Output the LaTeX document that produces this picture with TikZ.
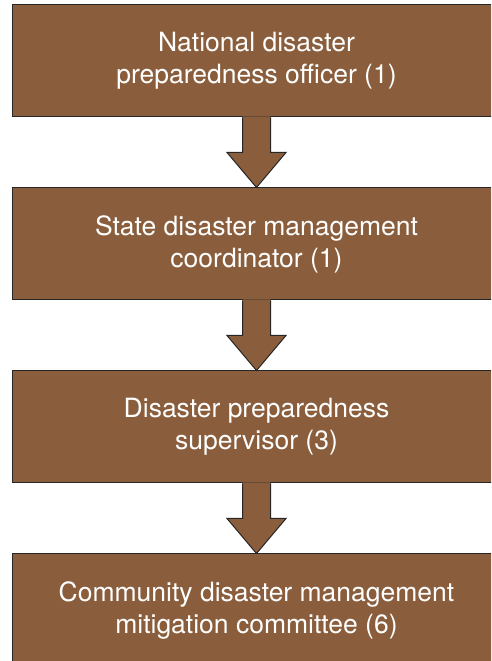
\documentclass[tikz,border=0pt]{standalone}
\usepackage{fontspec}
\setmainfont{TeX Gyre Heros}
\usetikzlibrary{positioning, calc}
\definecolor{boxbrown}{RGB}{138,94,60}
\definecolor{edgegray}{RGB}{38,38,38}
\tikzset{
  level/.style={draw=edgegray, line width=1pt, fill=boxbrown, text=white,
    minimum width=489pt, minimum height=112pt, inner sep=0pt, align=center,
    font=\fontsize{26.5}{32}\selectfont},
  blockarrow/.style={draw=edgegray, line width=1pt, line join=miter}
}

\begin{document}
\begin{tikzpicture}[x=1pt, y=1pt, node distance=70pt]
\useasboundingbox (0,0) rectangle (491,661);
\clip (0,0) rectangle (491,661);
% the four levels, top to bottom
\node[level] (national) at (256.5,600) {National disaster\\preparedness officer (1)};
\node[level, below=of national] (state) {State disaster management\\coordinator (1)};
\node[level, below=of state] (supervisor) {Disaster preparedness\\supervisor (3)};
\node[level, below=of supervisor] (community) {Community disaster management\\mitigation committee (6)};
% block arrows between the levels
\foreach \a/\b in {national/state, state/supervisor, supervisor/community} {
  \fill[boxbrown] ($(\a.south)+(-14,1)$) -- ($(\a.south)+(-14,-35)$) -- ($(\a.south)+(-29.5,-35)$)
    -- (\b.north) -- ($(\a.south)+(29.5,-35)$) -- ($(\a.south)+(14,-35)$) -- ($(\a.south)+(14,1)$) -- cycle;
  \draw[blockarrow] ($(\a.south)+(-14,0)$) -- ($(\a.south)+(-14,-35)$) -- ($(\a.south)+(-29.5,-35)$)
    -- (\b.north) -- ($(\a.south)+(29.5,-35)$) -- ($(\a.south)+(14,-35)$) -- ($(\a.south)+(14,0)$);
}
\end{tikzpicture}
\end{document}
